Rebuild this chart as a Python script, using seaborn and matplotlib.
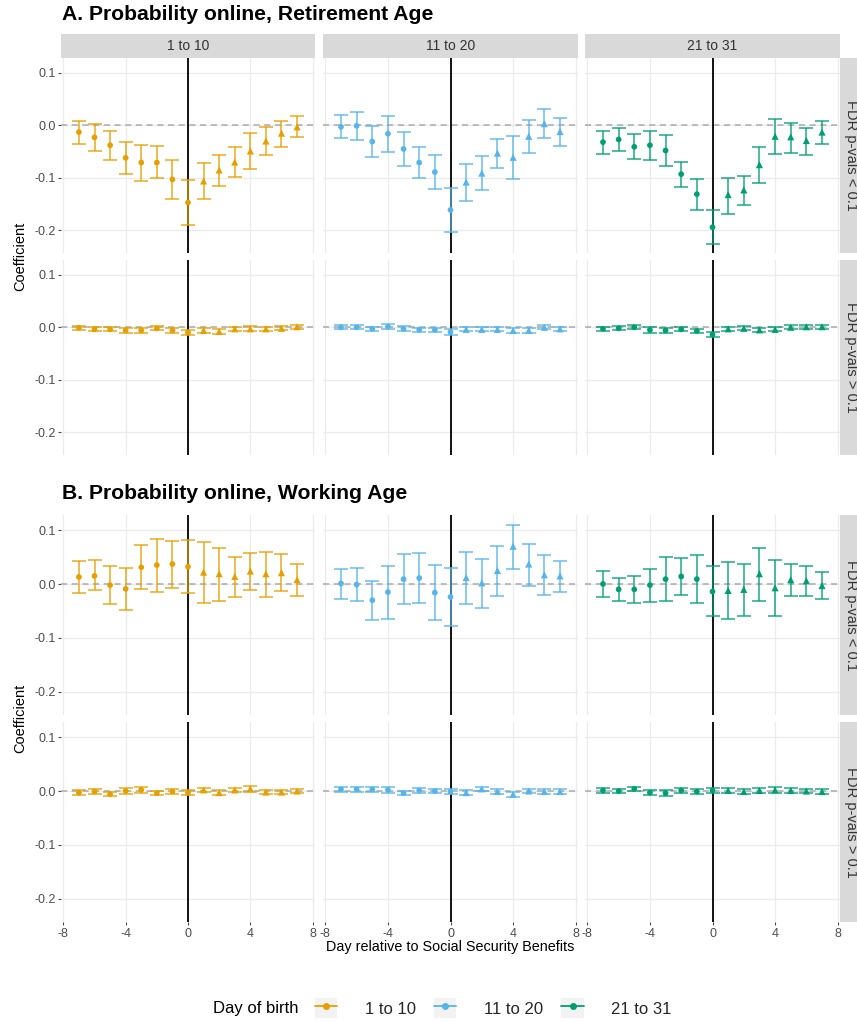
import numpy as np
import pandas as pd
import matplotlib
matplotlib.use("Agg")
import matplotlib.pyplot as plt
import seaborn as sns
from matplotlib.patches import Patch
from matplotlib.lines import Line2D

# ---------------- data ----------------
days = list(range(-7, 8))
groups = ["1 to 10", "11 to 20", "21 to 31"]
row_labels = ["FDR p-vals < 0.1", "FDR p-vals > 0.1"]
xticks = [-8, -4, 0, 4, 8]
yticks = [0.1, 0.0, -0.1, -0.2]
ytick_labels = ["0.1", "0.0", "-0.1", "-0.2"]

# Panel A: Retirement age, significant row
ret_sig_g1_est = [-0.013, -0.023, -0.038, -0.062, -0.071, -0.071, -0.103, -0.147, -0.106, -0.085, -0.070, -0.049, -0.030, -0.015, -0.003]
ret_sig_g1_lo = [-0.036, -0.049, -0.066, -0.093, -0.106, -0.101, -0.141, -0.190, -0.141, -0.115, -0.099, -0.083, -0.056, -0.041, -0.023]
ret_sig_g1_hi = [0.008, 0.002, -0.011, -0.032, -0.038, -0.040, -0.066, -0.105, -0.072, -0.057, -0.041, -0.015, -0.004, 0.008, 0.017]

ret_sig_g2_est = [-0.003, -0.001, -0.031, -0.016, -0.045, -0.071, -0.089, -0.161, -0.108, -0.091, -0.053, -0.061, -0.021, 0.003, -0.012]
ret_sig_g2_lo = [-0.025, -0.028, -0.061, -0.050, -0.077, -0.101, -0.121, -0.203, -0.145, -0.124, -0.082, -0.103, -0.052, -0.025, -0.039]
ret_sig_g2_hi = [0.019, 0.026, -0.001, 0.017, -0.013, -0.042, -0.056, -0.120, -0.073, -0.059, -0.026, -0.021, 0.010, 0.031, 0.013]

ret_sig_g3_est = [-0.032, -0.027, -0.041, -0.038, -0.048, -0.093, -0.131, -0.194, -0.132, -0.123, -0.075, -0.021, -0.022, -0.029, -0.013]
ret_sig_g3_lo = [-0.054, -0.048, -0.065, -0.066, -0.077, -0.118, -0.161, -0.226, -0.168, -0.152, -0.110, -0.054, -0.052, -0.057, -0.036]
ret_sig_g3_hi = [-0.011, -0.006, -0.017, -0.010, -0.018, -0.069, -0.103, -0.161, -0.101, -0.096, -0.042, 0.011, 0.005, -0.006, 0.009]

# Panel A: Retirement age, non-significant row (estimate and CI half width)
ret_ns_g1_est = [-0.001, -0.004, -0.004, -0.006, -0.006, -0.002, -0.006, -0.010, -0.006, -0.008, -0.003, -0.003, -0.003, -0.002, 0.001]
ret_ns_g1_hw = [0.004, 0.004, 0.004, 0.005, 0.005, 0.004, 0.005, 0.005, 0.004, 0.004, 0.004, 0.005, 0.004, 0.004, 0.004]
ret_ns_g2_est = [0.000, 0.000, -0.003, 0.001, -0.003, -0.005, -0.005, -0.009, -0.004, -0.004, -0.004, -0.006, -0.006, 0.000, -0.003]
ret_ns_g2_hw = [0.004, 0.004, 0.004, 0.005, 0.005, 0.004, 0.004, 0.005, 0.004, 0.004, 0.004, 0.005, 0.005, 0.004, 0.004]
ret_ns_g3_est = [-0.003, -0.002, 0.000, -0.005, -0.006, -0.004, -0.007, -0.014, -0.003, -0.002, -0.005, -0.004, 0.000, 0.001, 0.001]
ret_ns_g3_hw = [0.004, 0.004, 0.004, 0.005, 0.005, 0.004, 0.004, 0.005, 0.004, 0.004, 0.004, 0.004, 0.004, 0.004, 0.004]

# Panel B: Working age, significant row
work_sig_g1_est = [0.013, 0.015, -0.002, -0.009, 0.031, 0.035, 0.037, 0.032, 0.022, 0.019, 0.014, 0.024, 0.019, 0.021, 0.008]
work_sig_g1_lo = [-0.016, -0.012, -0.038, -0.048, -0.010, -0.014, -0.007, -0.017, -0.035, -0.032, -0.025, -0.011, -0.025, -0.013, -0.023]
work_sig_g1_hi = [0.042, 0.044, 0.033, 0.030, 0.073, 0.083, 0.080, 0.081, 0.078, 0.067, 0.050, 0.058, 0.060, 0.055, 0.038]

work_sig_g2_est = [0.001, -0.001, -0.030, -0.015, 0.009, 0.011, -0.016, -0.024, 0.012, 0.002, 0.025, 0.070, 0.037, 0.017, 0.015]
work_sig_g2_lo = [-0.027, -0.031, -0.066, -0.064, -0.038, -0.035, -0.067, -0.078, -0.038, -0.044, -0.022, 0.028, -0.003, -0.020, -0.015]
work_sig_g2_hi = [0.028, 0.029, 0.006, 0.033, 0.056, 0.057, 0.035, 0.029, 0.060, 0.047, 0.070, 0.110, 0.075, 0.053, 0.043]

work_sig_g3_est = [0.000, -0.010, -0.010, -0.002, 0.009, 0.014, 0.009, -0.014, -0.012, -0.010, 0.019, -0.007, 0.008, 0.006, -0.003]
work_sig_g3_lo = [-0.025, -0.032, -0.035, -0.033, -0.032, -0.020, -0.036, -0.060, -0.065, -0.059, -0.031, -0.059, -0.023, -0.022, -0.028]
work_sig_g3_hi = [0.025, 0.011, 0.014, 0.028, 0.051, 0.049, 0.053, 0.033, 0.040, 0.037, 0.067, 0.044, 0.038, 0.033, 0.023]

# Panel B: Working age, non-significant row
work_ns_g1_est = [-0.003, -0.001, -0.006, 0.000, 0.002, -0.004, -0.001, -0.003, 0.002, -0.003, 0.002, 0.004, -0.002, -0.002, 0.000]
work_ns_g1_hw = [0.004, 0.004, 0.004, 0.005, 0.005, 0.004, 0.004, 0.004, 0.004, 0.004, 0.004, 0.005, 0.004, 0.004, 0.004]
work_ns_g2_est = [0.003, 0.003, 0.003, 0.002, -0.004, 0.001, 0.000, -0.001, -0.003, 0.004, -0.001, -0.006, 0.000, -0.001, -0.001]
work_ns_g2_hw = [0.004, 0.004, 0.004, 0.005, 0.004, 0.004, 0.004, 0.004, 0.004, 0.004, 0.004, 0.005, 0.004, 0.004, 0.004]
work_ns_g3_est = [0.001, 0.000, 0.004, -0.003, -0.004, 0.001, -0.001, 0.001, 0.001, -0.001, 0.001, 0.002, 0.001, 0.000, -0.001]
work_ns_g3_hw = [0.004, 0.004, 0.004, 0.005, 0.005, 0.004, 0.004, 0.004, 0.004, 0.004, 0.004, 0.005, 0.004, 0.004, 0.004]

colors = {"1 to 10": "#E69F00", "11 to 20": "#56B4E9", "21 to 31": "#009E73"}


def build_frame():
    recs = []
    sig = {
        "A": [(ret_sig_g1_est, ret_sig_g1_lo, ret_sig_g1_hi),
              (ret_sig_g2_est, ret_sig_g2_lo, ret_sig_g2_hi),
              (ret_sig_g3_est, ret_sig_g3_lo, ret_sig_g3_hi)],
        "B": [(work_sig_g1_est, work_sig_g1_lo, work_sig_g1_hi),
              (work_sig_g2_est, work_sig_g2_lo, work_sig_g2_hi),
              (work_sig_g3_est, work_sig_g3_lo, work_sig_g3_hi)],
    }
    ns = {
        "A": [(ret_ns_g1_est, ret_ns_g1_hw), (ret_ns_g2_est, ret_ns_g2_hw), (ret_ns_g3_est, ret_ns_g3_hw)],
        "B": [(work_ns_g1_est, work_ns_g1_hw), (work_ns_g2_est, work_ns_g2_hw), (work_ns_g3_est, work_ns_g3_hw)],
    }
    for panel in ["A", "B"]:
        for gi, g in enumerate(groups):
            e, lo, hi = sig[panel][gi]
            for d, ee, l, h in zip(days, e, lo, hi):
                recs.append(dict(panel=panel, row=row_labels[0], group=g, day=d, est=ee, lo=l, hi=h))
            e, hw = ns[panel][gi]
            for d, ee, w in zip(days, e, hw):
                recs.append(dict(panel=panel, row=row_labels[1], group=g, day=d, est=ee, lo=ee - w, hi=ee + w))
    df = pd.DataFrame(recs)
    df["period"] = np.where(df["day"] <= 0, "pre", "post")
    return df


df = build_frame()

# ---------------- style ----------------
sns.set_theme(style="white")
plt.rcParams["font.family"] = ["Liberation Sans", "DejaVu Sans"]

W, H = 857, 1021
fig = plt.figure(figsize=(W / 100, H / 100), dpi=100)


def ax_at(x0, x1, y0, y1):
    return fig.add_axes([x0 / W, 1 - y1 / H, (x1 - x0) / W, (y1 - y0) / H])


cols_px = [(61, 315), (323, 578), (585, 840)]
rows_px = {"A": [(58, 253), (260, 455)], "B": [(515, 715), (722, 922)]}
XLIM = (-8.15, 8.15)
YLIM = (-0.243, 0.128)
grid_c = "#EBEBEB"
tick_c = "#4D4D4D"
strip_c = "#D9D9D9"

for panel in ["A", "B"]:
    for ri, rlab in enumerate(row_labels):
        y0, y1 = rows_px[panel][ri]
        for ci, g in enumerate(groups):
            x0, x1 = cols_px[ci]
            ax = ax_at(x0, x1, y0, y1)
            sub = df[(df.panel == panel) & (df.row == rlab) & (df.group == g)]
            ax.set_xlim(*XLIM)
            ax.set_ylim(*YLIM)
            ax.set_xticks(xticks)
            ax.set_yticks(yticks)
            ax.grid(True, color=grid_c, linewidth=0.9, zorder=0)
            ax.set_axisbelow(True)
            for s in ax.spines.values():
                s.set_visible(False)
            ax.axhline(0, color="#ABABAB", linestyle=(0, (4, 3)), linewidth=1.1, zorder=1)
            ax.axvline(0, color="black", linewidth=1.3, zorder=1)
            ax.errorbar(sub["day"], sub["est"],
                        yerr=[sub["est"] - sub["lo"], sub["hi"] - sub["est"]],
                        fmt="none", ecolor=colors[g], alpha=0.75, elinewidth=1.3,
                        capsize=5, capthick=1.3, zorder=2)
            sns.scatterplot(data=sub, x="day", y="est", style="period", size="period",
                            markers={"pre": "o", "post": "^"},
                            sizes={"pre": 17, "post": 26}, color=colors[g],
                            linewidth=0, legend=False, ax=ax, zorder=3)
            ax.set_xlabel("")
            ax.set_ylabel("")
            ax.tick_params(axis="both", length=2.5, width=0.8, color=tick_c,
                           labelsize=9, labelcolor=tick_c, pad=1.5)
            if ci == 0:
                ax.set_yticklabels(ytick_labels)
                ax.tick_params(axis="y", left=True)
            else:
                ax.tick_params(axis="y", left=False, labelleft=False)
            if panel == "B" and ri == 1:
                ax.set_xticklabels([str(t) for t in xticks])
                ax.tick_params(axis="x", bottom=True)
            else:
                ax.tick_params(axis="x", bottom=False, labelbottom=False)
            # column strips on top of panel A
            if panel == "A" and ri == 0:
                sax = ax_at(x0, x1, 34, 58)
                sax.set_facecolor(strip_c)
                sax.set_xticks([]); sax.set_yticks([])
                for s in sax.spines.values():
                    s.set_visible(False)
                sax.text(0.5, 0.5, g, ha="center", va="center", fontsize=10,
                         color="#333333", transform=sax.transAxes)
        # right row strip
        rax = ax_at(840, 862, y0, y1)
        rax.set_facecolor(strip_c)
        rax.set_xticks([]); rax.set_yticks([])
        for s in rax.spines.values():
            s.set_visible(False)
        rax.text(0.5, 0.5, rlab, ha="center", va="center", rotation=-90,
                 fontsize=10.5, color="#333333", transform=rax.transAxes)

# titles and axis labels
fig.text(62 / W, 1 - 5 / H, "A. Probability online, Retirement Age", ha="left", va="top",
         fontsize=15.2, fontweight="bold", color="black")
fig.text(62 / W, 1 - 484 / H, "B. Probability online, Working Age", ha="left", va="top",
         fontsize=15.2, fontweight="bold", color="black")
fig.text(20 / W, 1 - 256 / H, "Coefficient", rotation=90, ha="center", va="center",
         fontsize=10.5, color="black")
fig.text(20 / W, 1 - 718 / H, "Coefficient", rotation=90, ha="center", va="center",
         fontsize=10.5, color="black")
fig.text(450 / W, 1 - 947 / H, "Day relative to Social Security Benefits", ha="center",
         va="center", fontsize=10.4, color="black")

# legend
fig.text(213 / W, 1 - 1008 / H, "Day of birth", ha="left", va="center", fontsize=12,
         color="black")
handles = [(Patch(facecolor="#F2F2F2", edgecolor="none"),
            Line2D([], [], color=colors[g], marker="o", markersize=4, linewidth=1.3))
           for g in groups]
leg = fig.legend(handles=handles, labels=groups, loc="center left",
                 bbox_to_anchor=(315 / W, 1 - 1008 / H), ncol=3, frameon=False,
                 fontsize=12, handlelength=1.34, handleheight=1.4, handletextpad=1.65,
                 columnspacing=1.1, borderaxespad=0, borderpad=0)

fig.savefig("out.png", dpi=100)
